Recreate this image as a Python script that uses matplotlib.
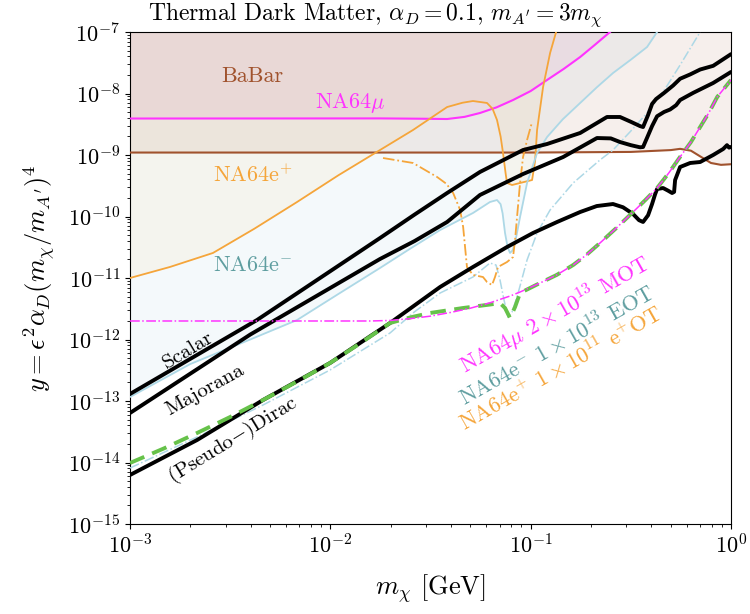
import numpy as np
import matplotlib
matplotlib.use("Agg")
import matplotlib.pyplot as plt

plt.rcParams.update({
    "font.family": "serif",
    "font.serif": ["cmr10"],
    "mathtext.fontset": "cm",
    "axes.formatter.use_mathtext": True,
    "axes.unicode_minus": False,
})

# ---------------- data (log10 m [GeV], log10 y) ----------------
babar_lm = [-3.0, -1.0, -0.5, -0.3, -0.254, -0.2, -0.15, -0.10, -0.05, 0.0]
babar_ly = [-8.96, -8.96, -8.95, -8.92, -8.90, -8.93, -9.03, -9.13, -9.16, -9.15]

na64mu_lm = [-3.0, -1.75, -1.55, -1.417, -1.33, -1.253, -1.17, -1.088, -1.0, -0.918,
             -0.835, -0.753, -0.68, -0.604]
na64mu_ly = [-8.407, -8.405, -8.41, -8.415, -8.38, -8.317, -8.225, -8.106, -7.96, -7.78,
             -7.60, -7.407, -7.21, -7.0]

na64ep_lm = [-3.0, -2.8, -2.586, -2.38, -2.166, -1.96, -1.752, -1.587, -1.417, -1.34,
             -1.288, -1.218, -1.19, -1.168, -1.15, -1.138, -1.125, -1.118, -1.093, -1.053,
             -0.993, -0.978, -0.968, -0.938, -0.903, -0.873]
na64ep_ly = [-11.0, -10.82, -10.593, -10.20, -9.764, -9.33, -8.919, -8.593, -8.220, -8.15,
             -8.122, -8.154, -8.25, -8.431, -8.70, -8.967, -9.30, -9.455, -9.488, -9.455,
             -9.407, -9.10, -8.593, -7.894, -7.341, -7.0]

na64em_lm = [-3.0, -2.7, -2.4, -2.166, -1.96, -1.752, -1.60, -1.452, -1.288, -1.203,
             -1.168, -1.150, -1.140, -1.128, -1.115, -1.103, -1.09, -1.078, -1.053, -1.018,
             -0.968, -0.918, -0.84, -0.753, -0.67, -0.589, -0.50, -0.419, -0.369]
na64em_ly = [-12.935, -12.40, -12.00, -11.683, -11.26, -10.837, -10.52, -10.220, -9.943,
             -9.764, -9.732, -9.80, -9.95, -10.268, -10.50, -10.593, -10.55, -10.431,
             -10.008, -9.455, -8.967, -8.707, -8.42, -8.154, -7.90, -7.667, -7.45,
             -7.244, -7.0]

scalar_lm = [-3.0, -2.366, -1.752, -1.58, -1.417, -1.253, -1.038, -0.918, -0.753, -0.619,
             -0.554, -0.50, -0.454, -0.439, -0.414, -0.394, -0.374, -0.334, -0.289, -0.254,
             -0.204, -0.154, -0.089, 0.0]
scalar_ly = [-12.886, -11.683, -10.350, -9.97, -9.618, -9.276, -8.919, -8.821, -8.642,
             -8.382, -8.382, -8.46, -8.53, -8.545, -8.35, -8.17, -8.09, -7.99, -7.87,
             -7.76, -7.69, -7.61, -7.55, -7.36]

majorana_lm = [-3.0, -2.4, -1.752, -1.58, -1.417, -1.253, -1.038, -0.838, -0.669, -0.60,
               -0.554, -0.50, -0.454, -0.439, -0.419, -0.394, -0.369, -0.334, -0.304,
               -0.274, -0.254, -0.189, -0.089, 0.0]
majorana_ly = [-13.195, -11.92, -10.691, -10.40, -10.089, -9.650, -9.309, -9.033, -8.724,
               -8.73, -8.789, -8.84, -8.875, -8.870, -8.72, -8.53, -8.37, -8.30, -8.26,
               -8.19, -8.106, -7.99, -7.829, -7.650]

dirac_lm = [-3.0, -2.665, -2.336, -2.0015, -1.702, -1.452, -1.288, -1.118, -0.988, -0.868,
            -0.753, -0.67, -0.589, -0.539, -0.489, -0.459, -0.439, -0.414, -0.394, -0.379,
            -0.369, -0.339, -0.314, -0.294, -0.284, -0.279, -0.254, -0.204, -0.154, -0.089,
            -0.039, -0.02, -0.01, 0.0]
dirac_ly = [-14.203, -13.634, -12.984, -12.382, -11.732, -11.146, -10.821, -10.496,
            -10.268, -10.089, -9.927, -9.83, -9.797, -9.85, -9.959, -10.06, -10.089, -9.98,
            -9.797, -9.64, -9.553, -9.537, -9.58, -9.618, -9.60, -9.407, -9.195, -9.13,
            -9.114, -9.0, -8.902, -8.84, -8.88, -8.87]

green_lm = [-3.0, -2.83, -2.665, -2.50, -2.336, -2.17, -2.0015, -1.85, -1.702, -1.60,
            -1.502, -1.338, -1.20, -1.153, -1.128, -1.103, -1.078, -1.053, -0.953, -0.87,
            -0.788, -0.72, -0.654, -0.57, -0.489, -0.43, -0.369, -0.31, -0.254, -0.20,
            -0.154, -0.11, -0.069, 0.0]
green_ly = [-14.008, -13.77, -13.520, -13.26, -12.984, -12.69, -12.382, -12.06, -11.732,
            -11.64, -11.569, -11.488, -11.43, -11.407, -11.488, -11.650, -11.472, -11.244,
            -11.081, -10.95, -10.789, -10.62, -10.431, -10.18, -9.927, -9.74, -9.537,
            -9.29, -9.03, -8.79, -8.545, -8.31, -8.057, -7.78]

mu_proj_lm = [-3.0, -1.80, -1.70, -1.60, -1.50, -1.40, -1.30, -1.20, -1.10, -1.053,
              -0.953, -0.87, -0.788, -0.72, -0.654, -0.57, -0.489, -0.43, -0.369, -0.31,
              -0.254, -0.20, -0.154, -0.11, -0.069, 0.0]
mu_proj_ly = [-11.699, -11.699, -11.69, -11.66, -11.62, -11.56, -11.49, -11.40, -11.29,
              -11.228, -11.081, -10.95, -10.789, -10.62, -10.431, -10.18, -9.927, -9.74,
              -9.537, -9.29, -9.03, -8.79, -8.545, -8.31, -8.057, -7.78]

em_proj_lm = [-3.0, -2.665, -2.336, -2.0015, -1.702, -1.58, -1.452, -1.288, -1.203,
              -1.173, -1.153, -1.133, -1.113, -1.093, -1.068, -1.018, -0.968, -0.903,
              -0.788, -0.654, -0.589, -0.50, -0.419, -0.33, -0.254, -0.154]
em_proj_ly = [-14.09, -13.585, -13.065, -12.496, -11.894, -11.55, -11.244, -10.984,
              -10.756, -10.789, -11.033, -11.358, -11.634, -11.553, -11.309, -10.707,
              -10.268, -9.894, -9.455, -9.081, -8.919, -8.61, -8.317, -7.93, -7.537, -7.0]

ep_proj_lm = [-1.737, -1.587, -1.467, -1.42, -1.387, -1.352, -1.337, -1.318, -1.288,
              -1.238, -1.218, -1.193, -1.178, -1.163, -1.118, -1.088, -1.078, -1.068,
              -1.053, -1.038, -1.018, -0.993]
ep_proj_ly = [-9.049, -9.130, -9.358, -9.47, -9.618, -9.894, -10.171, -10.821, -10.951,
              -10.984, -11.065, -11.114, -10.984, -10.821, -10.740, -10.659, -10.382,
              -10.008, -9.455, -9.033, -8.756, -8.463]

# ---------------- colours ----------------
c_babar = "#a0522d"
c_mu = "#ff33ff"
c_ep = "#f5a53a"
c_em = "#add8e6"
c_em_txt = "#5f9ea0"
c_green = "#66c24a"


def p(lm, ly):
    return 10.0 ** np.asarray(lm), 10.0 ** np.asarray(ly)


fig = plt.figure(figsize=(7.5, 6.14), dpi=100)
ax = fig.add_axes([130 / 750, 1 - 524 / 614, 601 / 750, 492 / 614])
ax.set_xscale("log")
ax.set_yscale("log")
ax.set_xlim(1e-3, 1)
ax.set_ylim(1e-15, 1e-7)

top = 1e-6
# fills
x, y = p(na64em_lm, na64em_ly)
ax.fill_between(x, y, top, color=c_em, alpha=0.13, lw=0, zorder=1)
x, y = p(na64ep_lm, na64ep_ly)
ax.fill_between(x, y, top, color="#ffa500", alpha=0.05, lw=0, zorder=1)
x, y = p(babar_lm, babar_ly)
ax.fill_between(x, y, top, color=c_babar, alpha=0.09, lw=0, zorder=1)
x, y = p(na64mu_lm, na64mu_ly)
ax.fill_between(x, y, top, color="#c71585", alpha=0.06, lw=0, zorder=1)

# existing limits
ax.plot(*p(babar_lm, babar_ly), color=c_babar, lw=1.5, zorder=3)
ax.plot(*p(na64mu_lm, na64mu_ly), color=c_mu, lw=1.5, zorder=3)
ax.plot(*p(na64ep_lm, na64ep_ly), color=c_ep, lw=1.3, zorder=3)
ax.plot(*p(na64em_lm, na64em_ly), color=c_em, lw=1.3, zorder=3)

# projections
ax.plot(*p(em_proj_lm, em_proj_ly), color=c_em, lw=1.1, ls="-.", zorder=3)
ax.plot(*p(ep_proj_lm, ep_proj_ly), color=c_ep, lw=1.3, ls="-.", zorder=3)

# thermal targets
for lm, ly in [(scalar_lm, scalar_ly), (majorana_lm, majorana_ly), (dirac_lm, dirac_ly)]:
    ax.plot(*p(lm, ly), color="black", lw=2.8, zorder=4,
            solid_capstyle="round", solid_joinstyle="round")

ax.plot(*p(green_lm, green_ly), color=c_green, lw=2.8, ls=(0, (4, 2.2)), zorder=5)
ax.plot(*p(mu_proj_lm, mu_proj_ly), color=c_mu, lw=1.1, ls="-.", zorder=6)

# labels
fs = 16
ax.text(4.06e-3, 1.93e-8, "BaBar", color=c_babar, fontsize=fs, ha="center", va="center")
ax.text(1.25e-2, 7.0e-9, r"NA64$\mu$", color=c_mu, fontsize=fs, ha="center", va="center")
ax.text(4.1e-3, 4.7e-10, r"NA64e$^{+}$", color=c_ep, fontsize=fs, ha="center", va="center")
ax.text(4.1e-3, 1.6e-11, r"NA64e$^{-}$", color=c_em_txt, fontsize=fs, ha="center", va="center")

ax.text(1.95e-3, 6.7e-13, "Scalar", fontsize=fs - 1, rotation=31, ha="center", va="center")
ax.text(2.37e-3, 1.5e-13, "Majorana", fontsize=fs - 1, rotation=29, ha="center", va="center")
ax.text(3.27e-3, 2.3e-14, r"(Pseudo$-$)Dirac", fontsize=fs - 1, rotation=31.5,
        ha="center", va="center")

rot = 29.5
ax.text(0.1324, 2.5e-12, r"NA64$\mu$ $2\times10^{13}$ MOT", color=c_mu, fontsize=fs,
        rotation=rot, ha="center", va="center")
ax.text(0.1355, 8.1e-13, r"NA64e$^{-}$ $1\times10^{13}$ EOT", color=c_em_txt, fontsize=fs,
        rotation=rot, ha="center", va="center")
ax.text(0.142, 3.4e-13, r"NA64e$^{+}$ $1\times10^{11}$ e$^{+}$OT", color=c_ep, fontsize=fs,
        rotation=rot, ha="center", va="center")

fig.text(0.5, 1 - 15 / 614, r"Thermal Dark Matter, $\alpha_D = 0.1$, $m_{A'} = 3m_\chi$",
         fontsize=17, ha="center", va="center")
ax.set_xlabel(r"$m_\chi$ [GeV]", fontsize=19, labelpad=10)
ax.set_ylabel(r"$y = \epsilon^2\alpha_D(m_\chi/m_{A'})^4$", fontsize=19, labelpad=8)
ax.tick_params(labelsize=16)
ax.yaxis.set_major_locator(matplotlib.ticker.LogLocator(base=10, numticks=20))
ax.yaxis.set_minor_locator(matplotlib.ticker.LogLocator(base=10, subs=np.arange(2, 10), numticks=20))
ax.yaxis.set_minor_formatter(matplotlib.ticker.NullFormatter())

fig.savefig("out.png", dpi=100)
